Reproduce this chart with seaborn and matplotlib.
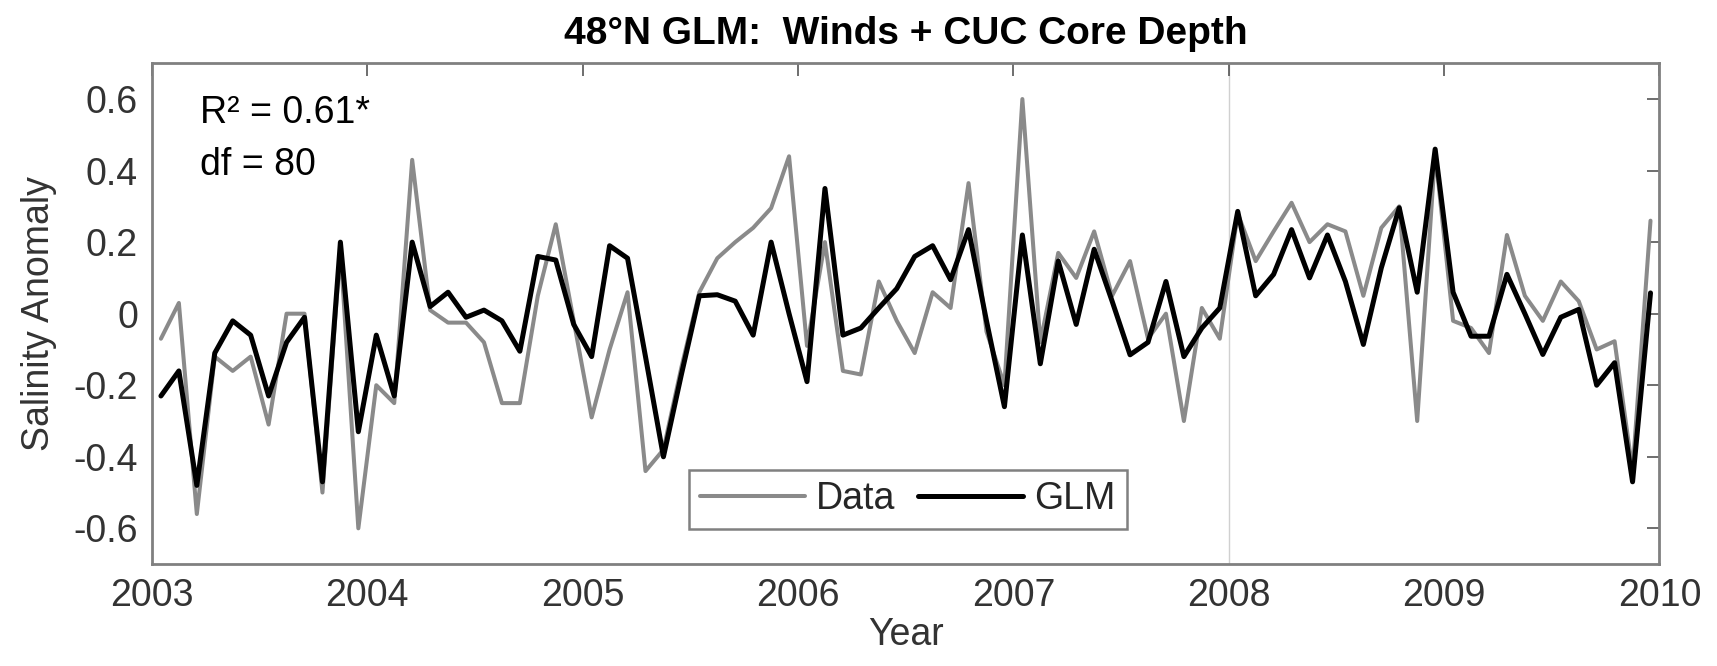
import numpy as np
import pandas as pd
import matplotlib
matplotlib.use("Agg")
import matplotlib.pyplot as plt
import seaborn as sns
from matplotlib.lines import Line2D

# ---- data (monthly, Jan 2003 .. Dec 2009) ----
month_index = np.arange(84)
glm = [-0.23, -0.16, -0.48, -0.11, -0.02, -0.06, -0.23, -0.08, -0.01, -0.47, 0.20, -0.33,
       -0.06, -0.23, 0.20, 0.02, 0.06, -0.01, 0.01, -0.02, -0.105, 0.16, 0.15, -0.03,
       -0.12, 0.19, 0.155, -0.12, -0.40, -0.17, 0.05, 0.053, 0.035, -0.06, 0.20, 0.0,
       -0.19, 0.35, -0.06, -0.04, 0.016, 0.07, 0.16, 0.19, 0.095, 0.235, -0.02, -0.26,
       0.22, -0.14, 0.147, -0.03, 0.18, 0.035, -0.115, -0.08, 0.09, -0.12, -0.04, 0.016,
       0.286, 0.05, 0.11, 0.235, 0.10, 0.22, 0.09, -0.086, 0.128, 0.296, 0.06, 0.46,
       0.06, -0.063, -0.063, 0.11, 0.0, -0.114, -0.01, 0.012, -0.20, -0.137, -0.47, 0.058]
data = [-0.07, 0.03, -0.56, -0.12, -0.16, -0.12, -0.31, 0.0, 0.0, -0.50, 0.18, -0.60,
        -0.20, -0.25, 0.43, 0.01, -0.025, -0.025, -0.08, -0.25, -0.25, 0.05, 0.25, -0.02,
        -0.29, -0.10, 0.06, -0.44, -0.38, -0.15, 0.06, 0.155, 0.20, 0.24, 0.295, 0.44,
        -0.09, 0.20, -0.16, -0.17, 0.09, -0.02, -0.11, 0.06, 0.016, 0.365, -0.05, -0.20,
        0.60, -0.08, 0.17, 0.10, 0.23, 0.05, 0.147, -0.07, 0.0, -0.30, 0.016, -0.07,
        0.28, 0.147, 0.23, 0.31, 0.20, 0.25, 0.23, 0.05, 0.24, 0.30, -0.30, 0.45,
        -0.02, -0.04, -0.11, 0.22, 0.05, -0.02, 0.09, 0.035, -0.10, -0.077, -0.44, 0.26]
years = 2003 + (month_index + 0.5) / 12.0

year_ticks = [2003, 2004, 2005, 2006, 2007, 2008, 2009, 2010]
y_ticks = [-0.6, -0.4, -0.2, 0, 0.2, 0.4, 0.6]
y_tick_labels = ["-0.6", "-0.4", "-0.2", "0", "0.2", "0.4", "0.6"]

df = pd.DataFrame({
    "Year": np.concatenate([years, years]),
    "Salinity Anomaly": np.concatenate([data, glm]),
    "Series": ["Data"] * len(data) + ["GLM"] * len(glm),
})

# ---- style ----
sns.set_theme(style="white")
plt.rcParams["font.family"] = ["Liberation Sans", "DejaVu Sans"]
plt.rcParams["axes.unicode_minus"] = False

fig = plt.figure(figsize=(17.17, 6.66), dpi=100)
ax = fig.add_axes([0.0885, 0.153, 0.878, 0.752])

gray = "#8a8a8a"
ax.axvline(2008, color="#d0d0d0", lw=1.0, zorder=0)
sns.lineplot(data=df[df.Series == "Data"], x="Year", y="Salinity Anomaly",
             color=gray, lw=2.9, ax=ax, legend=False)
sns.lineplot(data=df[df.Series == "GLM"], x="Year", y="Salinity Anomaly",
             color="black", lw=3.6, ax=ax, legend=False)

ax.set_xlim(2003, 2010)
ax.set_ylim(-0.7, 0.7)
ax.set_xticks(year_ticks)
ax.set_xticklabels([str(y) for y in year_ticks])
ax.set_yticks(y_ticks)
ax.set_yticklabels(y_tick_labels)

txtc = "#333333"
ax.tick_params(direction="in", top=True, right=True, length=9, width=1.2,
               color="#555555", labelsize=27, labelcolor=txtc, pad=10)
for s in ax.spines.values():
    s.set_color("#808080")
    s.set_linewidth(2.0)

ax.set_xlabel("Year", fontsize=27, color=txtc, labelpad=2)
ax.set_ylabel("Salinity Anomaly", fontsize=27, color=txtc, labelpad=12)
ax.set_title("48°N GLM:  Winds + CUC Core Depth", fontsize=28, fontweight="bold",
             color="black", pad=14)

ax.text(0.032, 0.90, "R² = 0.61*", transform=ax.transAxes, fontsize=27,
        va="center", ha="left", color="black")
ax.text(0.032, 0.796, "df = 80", transform=ax.transAxes, fontsize=27,
        va="center", ha="left", color="black")

handles = [Line2D([0], [0], color=gray, lw=2.9), Line2D([0], [0], color="black", lw=3.6)]
leg = ax.legend(handles, ["Data", "GLM"], ncol=2, loc="center",
                bbox_to_anchor=(0.5015, 0.129), fontsize=27, frameon=True,
                fancybox=False, handlelength=2.8, handletextpad=0.3,
                columnspacing=0.6, borderpad=0.3, borderaxespad=0)
leg.get_frame().set_edgecolor("#606060")
leg.get_frame().set_linewidth(1.8)

fig.savefig("out.png", dpi=100)
